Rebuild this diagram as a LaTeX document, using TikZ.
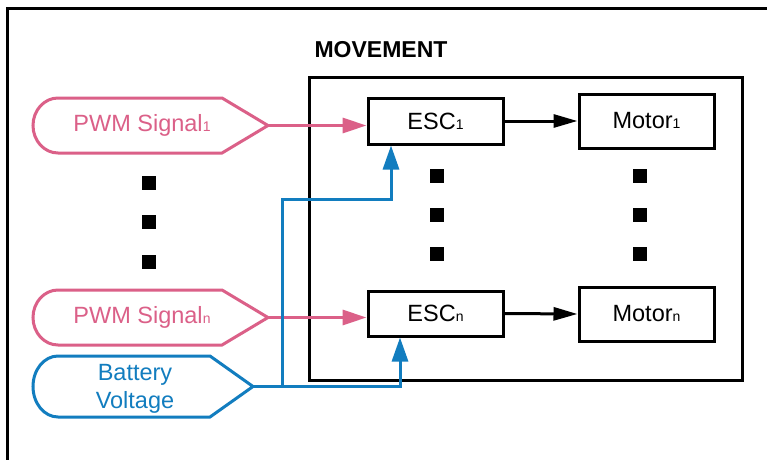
\documentclass[tikz,border=0pt]{standalone}
\usepackage{fontspec}
\setmainfont{Liberation Sans}
\usetikzlibrary{arrows.meta}
\definecolor{sigpink}{RGB}{219,96,136}
\definecolor{pwrblue}{RGB}{18,125,191}
\newcommand{\sub}[1]{{\fontsize{14}{16}\selectfont #1}}
\tikzset{
  thick line/.style={line width=3pt},
  blockbox/.style={draw, thick line, fill=white, minimum width=135pt,
    font=\fontsize{23.5}{28}\selectfont, inner sep=0pt},
  inshape/.style={thick line, fill=white},
  intext/.style={font=\fontsize{23.5}{28}\selectfont, align=center, inner sep=0pt},
  dotsq/.style={fill=black, minimum size=14pt, inner sep=0pt},
  blackarrow/.style={thick line, -{Triangle[length=24pt,width=13pt]}},
  pinkarrow/.style={thick line, draw=sigpink, -{Triangle[length=24pt,width=15pt]}},
  bluearrow/.style={thick line, draw=pwrblue, -{Triangle[length=24pt,width=16pt]}},
}
\begin{document}
\begin{tikzpicture}[x=1pt, y=-1pt]
  \useasboundingbox (0,0) rectangle (767,460);
  \fill[white] (0,0) rectangle (767,460);

  % page frame (top and left edges)
  \draw[thick line] (767,9) -- (7,9) -- (7,460);

  % movement subsystem
  \draw[thick line] (309,77) rectangle (742,380);
  \node[font=\bfseries\fontsize{23}{27}\selectfont] (title) at (381,50) {MOVEMENT};

  \node[blockbox, minimum height=46pt] (esc1) at (435.5,121) {ESC\sub{1}};
  \node[blockbox, minimum height=54pt] (mot1) at (646.5,121) {Motor\sub{1}};
  \node[blockbox, minimum height=45pt] (escn) at (435.5,313.5) {ESC\sub{n}};
  \node[blockbox, minimum height=54pt] (motn) at (646.5,314) {Motor\sub{n}};

  \foreach \yy/\nm in {176/a,215/b,254/c} {
    \node[dotsq] (escdot\nm) at (437,\yy) {};
    \node[dotsq] (motdot\nm) at (640,\yy) {};
  }
  \foreach \yy/\nm in {183/a,222/b,262/c}
    \node[dotsq] (indot\nm) at (149,\yy) {};

  % input signals
  \draw[inshape, draw=sigpink] (268,125.5) -- (222,98) -- (58,98)
    arc[start angle=90, end angle=270, x radius=25pt, y radius=27.5pt]
    -- (222,153) -- cycle;
  \coordinate (pwm1tip) at (268,125.5);
  \node[intext, text=sigpink] (pwm1) at (142,125.5) {PWM Signal\sub{1}};

  \draw[inshape, draw=sigpink] (268,317.5) -- (222,290) -- (58,290)
    arc[start angle=90, end angle=270, x radius=25pt, y radius=27.5pt]
    -- (222,345) -- cycle;
  \coordinate (pwmntip) at (268,317.5);
  \node[intext, text=sigpink] (pwmn) at (142,317.5) {PWM Signal\sub{n}};

  \draw[inshape, draw=pwrblue] (253,386.5) -- (210,356) -- (58,356)
    arc[start angle=90, end angle=270, x radius=25pt, y radius=30.5pt]
    -- (210,417) -- cycle;
  \coordinate (battip) at (253,386.5);
  \node[intext, text=pwrblue] (bat) at (135,389) {Battery\\Voltage};

  % connectors
  \draw[blackarrow] (esc1.east) -- (mot1.west);
  \draw[blackarrow] (escn.east) -- (motn.west);

  \draw[pinkarrow] (pwm1tip) -- (pwm1tip -| esc1.west);
  \draw[pinkarrow] (pwmntip) -- (pwmntip -| escn.west);

  \coordinate (split) at (282,386.5);
  \coordinate (bend) at (391,199);
  \draw[bluearrow] (battip) -| ([xshift=-35.5pt]escn.south);
  \draw[bluearrow] (split) |- (bend) -- ([xshift=-44.5pt]esc1.south);
\end{tikzpicture}
\end{document}
